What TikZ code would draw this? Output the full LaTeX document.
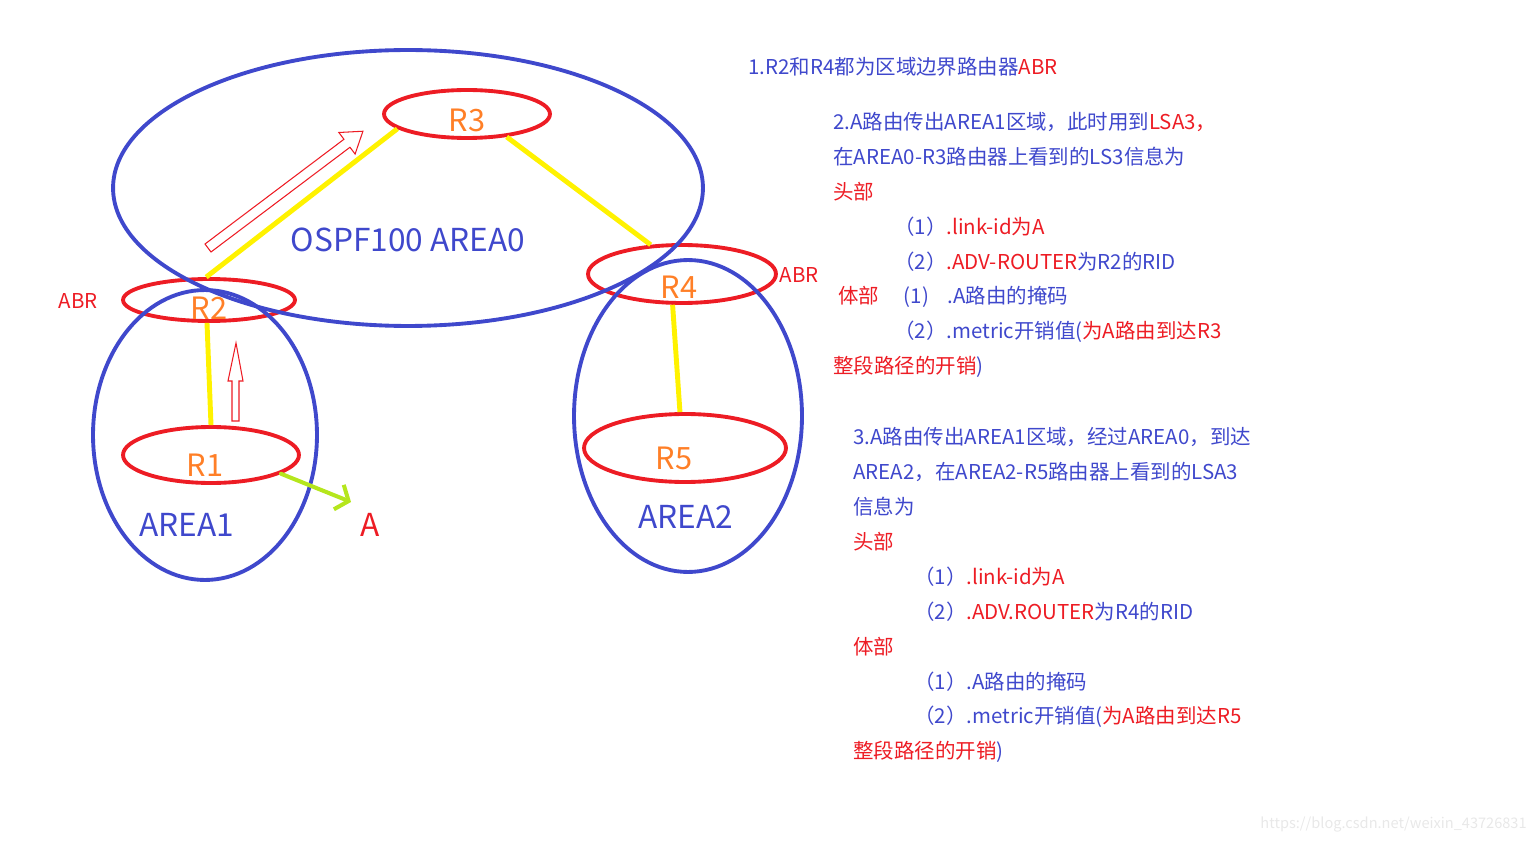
\documentclass[tikz,border=0pt]{standalone}
\usepackage{fontspec}
\setmainfont{Noto Sans CJK SC}
\usetikzlibrary{shapes.geometric,arrows.meta}
\definecolor{pblue}{HTML}{3F48CC}
\definecolor{pred}{HTML}{ED1C24}
\definecolor{porange}{HTML}{FF7F27}
\definecolor{pyellow}{HTML}{FFF200}
\definecolor{plime}{HTML}{B5E61D}
\newcommand{\redtxt}[1]{\textcolor{pred}{#1}}

\tikzset{router/.style = {ellipse, draw = pred, line width = 2.2pt, inner sep = 0pt},
         rname/.style = {text = porange, font = \fontsize{17.5}{17.5}\selectfont},
         area/.style = {ellipse, draw = pblue, line width = 2.2pt, inner sep = 0pt},
         big/.style = {text = pblue, font = \fontsize{18}{18}\selectfont},
         link/.style = {draw = pyellow, line width = 2.8pt},
         hollow/.style = {draw = pred, line width = 0.6pt, line join = miter},
         note/.style = {anchor = west, inner sep = 0pt, text = pblue, font = \fontsize{11.65}{11.65}\selectfont}
        }

\begin{document}
\begin{tikzpicture}[x=0.02cm, y=-0.02cm]
\useasboundingbox (0,0) rectangle (1534,844);
\node[router, minimum width = 3.32cm, minimum height = 0.96cm, label = {[rname, yshift = -0.12cm]center:R3}] at (467,114) (r3) {};
\node[router, minimum width = 3.44cm, minimum height = 0.84cm, label = {[rname, yshift = -0.16cm]center:R2}] at (209,300) (r2) {};
\node[router, minimum width = 3.76cm, minimum height = 1.16cm, label = {[rname, xshift = -0.06cm, yshift = -0.26cm]center:R4}] at (682,274) (r4) {};
\node[router, minimum width = 4.04cm, minimum height = 1.36cm, label = {[rname, xshift = -0.22cm, yshift = -0.2cm]center:R5}] at (685,448) (r5) {};
\node[router, minimum width = 3.52cm, minimum height = 1.12cm, label = {[rname, xshift = -0.12cm, yshift = -0.2cm]center:R1}] at (211,455) (r1) {};
\node[area, minimum width = 11.8cm, minimum height = 5.52cm] at (408,188) (area0) {};
\node[area, minimum width = 4.48cm, minimum height = 5.8cm] at (205,435) (area1) {};
\node[area, minimum width = 4.56cm, minimum height = 6.24cm] at (688,416) (area2) {};
\node[big] at (408,240) (n0) {OSPF100 AREA0};
\node[big] at (187,525) (n1) {AREA1};
\node[big] at (686,517) (n2) {AREA2};
\node[big, text = pred] at (370,525) (a) {A};
\node[note, anchor = center, text = pred] at (78,301) (abr2) {ABR};
\node[note, anchor = center, text = pred] at (799,275) (abr4) {ABR};
\coordinate (atip) at (351,502);
\draw[link] (r2.97) -- (r3.192);
\draw[link] (r3.-30) -- (r4.137);
\draw[link] (r2.-95) -- (r1.90);
\draw[link] (r4.-107) -- (r5.98);
\draw[draw = plime, line width = 2.3pt, line cap = round, -{Straight Barb[length = 6pt, width = 15pt]}] (r1.-15) -- (atip);
\draw[hollow] (232,421) -- (232,381) -- (228,381) -- (236,343) -- (243,381) -- (239,381) -- (239,421) -- cycle;
\begin{scope}[shift = {(208,248)}, rotate = 37]
\draw[hollow] (0,5) -- (174,5) -- (174,13.5) -- (194,0) -- (174,-13.5) -- (174,-5) -- (0,-5) -- cycle;
\end{scope}
\node[note] at (748,67) (l1) {1.R2和R4都为区域边界路由器\redtxt{ABR}};
\node[note] at (833,122) (l2a) {2.A路由传出AREA1区域，此时用到\redtxt{LSA3，}};
\node[note] at (833,157) (l2b) {在AREA0-R3路由器上看到的LS3信息为};
\node[note, text = pred] at (833,192) (l2c) {头部};
\node[note] at (894,227) (l2d) {（1）\redtxt{.link-id为A}};
\node[note] at (894,262) (l2e) {（2）\redtxt{.ADV-ROUTER}为R2的RID};
\node[note] at (838,297) (l2f) {\redtxt{体部}\hspace{1.2em}(1)\hspace{0.9em}.A路由的掩码};
\node[note] at (894,332) (l2g) {（2）.metric开销值(\redtxt{为A路由到达R3}};
\node[note] at (833,367) (l2h) {\redtxt{整段路径的开销})};
\node[note] at (853,437) (l3a) {3.A路由传出AREA1区域，经过AREA0，到达};
\node[note] at (853,472) (l3b) {AREA2，在AREA2-R5路由器上看到的LSA3};
\node[note] at (853,507) (l3c) {信息为};
\node[note, text = pred] at (853,542) (l3d) {头部};
\node[note] at (914,577) (l3e) {（1）\redtxt{.link-id为A}};
\node[note] at (914,612) (l3f) {（2）\redtxt{.ADV.ROUTER}为R4的RID};
\node[note, text = pred] at (853,647) (l3g) {体部};
\node[note] at (914,682) (l3h) {（1）.A路由的掩码};
\node[note] at (914,717) (l3i) {（2）.metric开销值(\redtxt{为A路由到达R5}};
\node[note] at (853,752) (l3j) {\redtxt{整段路径的开销})};
\node[note, anchor = east, text = black!9, font = \fontsize{8.3}{8.3}\selectfont] at (1527,825) (wm) {https://blog.csdn.net/weixin\_43726831};
\end{tikzpicture}
\end{document}
